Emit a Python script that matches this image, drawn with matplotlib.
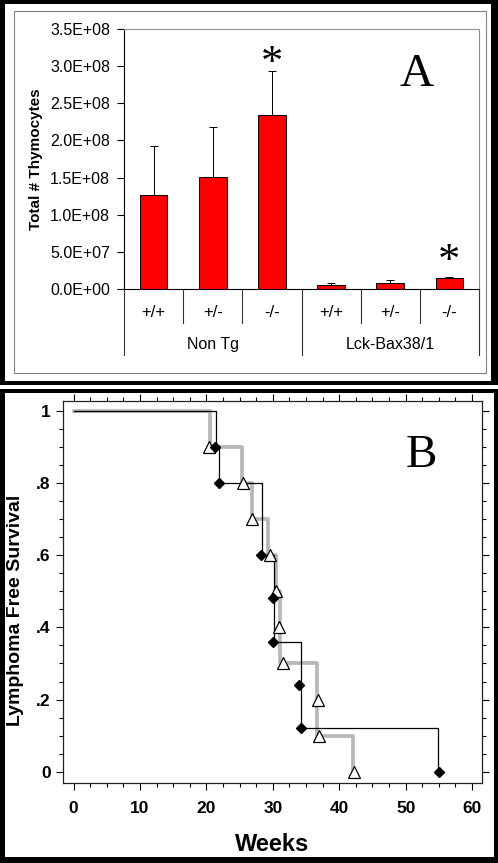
import numpy as np
import matplotlib
matplotlib.use("Agg")
import matplotlib.pyplot as plt
from matplotlib.patches import Rectangle
from matplotlib.ticker import MultipleLocator, FixedLocator

# ---- panel A data ----
genotypes = ['+/+', '+/-', '-/-', '+/+', '+/-', '-/-']
groups = ['Non Tg', 'Lck-Bax38/1']
thymocytes = [1.27e8, 1.51e8, 2.34e8, 4.9e6, 8.5e6, 1.44e7]
thymocytes_err = [6.6e7, 6.7e7, 5.9e7, 3.0e6, 3.6e6, 1.8e6]
signif = [2, 5]
signif_y = [2.88e8, 2.15e7]

# ---- panel B data (Kaplan-Meier steps) ----
gray_t = [0, 20.5, 25.3, 26.8, 29.3, 30.5, 31.1, 36.7, 42.1]
gray_s = [1, 0.9, 0.8, 0.7, 0.6, 0.5, 0.3, 0.1, 0.0]
tri_t = [20.4, 25.5, 26.9, 29.5, 30.5, 31.0, 31.6, 36.8, 36.9, 42.2]
tri_s = [0.9, 0.8, 0.7, 0.6, 0.5, 0.4, 0.3, 0.2, 0.1, 0.0]
black_t = [0, 21.4, 21.9, 28.3, 30.2, 34.2, 54.9]
black_s = [1, 0.9, 0.8, 0.6, 0.36, 0.12, 0.0]
dia_t = [21.3, 21.9, 28.2, 30.0, 30.1, 33.9, 34.2, 55.0]
dia_s = [0.9, 0.8, 0.6, 0.48, 0.36, 0.24, 0.12, 0.0]

W, H = 498, 863
sans = 'Liberation Sans'
serif = 'Liberation Serif'
plt.rcParams['font.family'] = [sans, 'DejaVu Sans']

fig = plt.figure(figsize=(W / 100, H / 100), dpi=100)


def frect(x0, y0, x1, y1, **kw):
    # rectangle in pixel coords (top-left origin)
    r = Rectangle((x0 / W, 1 - y1 / H), (x1 - x0) / W, (y1 - y0) / H,
                  transform=fig.transFigure, **kw)
    fig.patches.append(r)


# frames
frect(0, 0, 498, 385, facecolor='black', edgecolor='none', zorder=-3)
frect(5, 4, 491, 381, facecolor='white', edgecolor='none', zorder=-2)
frect(14, 11, 486, 373, facecolor='none', edgecolor='#808080', lw=0.8, zorder=-1)
frect(0, 389, 498, 863, facecolor='black', edgecolor='none', zorder=-3)
frect(5, 393, 494, 857, facecolor='white', edgecolor='none', zorder=-2)

# ================= panel A =================
axA = fig.add_axes([124 / W, 1 - 289 / H, 355 / W, 260 / H])
axA.patch.set_alpha(0)
x = np.arange(len(genotypes))
axA.bar(x, thymocytes, width=0.47, color='#ff0000', edgecolor='black', lw=0.7, zorder=2)
axA.errorbar(x, thymocytes, yerr=[np.zeros(len(x)), thymocytes_err], fmt='none',
             ecolor='black', elinewidth=0.7, capsize=3, capthick=0.7, zorder=1)
axA.set_xlim(-0.5, 5.5)
axA.set_ylim(0, 3.5e8)
axA.set_yticks(np.arange(0, 3.51e8, 0.5e8))
axA.set_yticklabels(['{:.1E}'.format(v) for v in np.arange(0, 3.51e8, 0.5e8)], fontsize=11.5)
axA.set_xticks([])
axA.tick_params(axis='y', direction='out', length=5, width=0.8, pad=5)
for s in ['top', 'right']:
    axA.spines[s].set_color('#909090')
    axA.spines[s].set_linewidth(0.8)
for s in ['left', 'bottom']:
    axA.spines[s].set_color('black')
    axA.spines[s].set_linewidth(0.8)
axA.set_ylabel('Total # Thymocytes', fontsize=11, fontweight='bold', labelpad=5)

tr = axA.get_xaxis_transform()
for xv in [-0.5, 2.5, 5.5]:
    axA.plot([xv, xv], [0, -0.254], color='#333333', lw=0.8, transform=tr, clip_on=False)
for xv in [0.5, 1.5, 3.5, 4.5]:
    axA.plot([xv, xv], [0, -0.131], color='#333333', lw=0.8, transform=tr, clip_on=False)
for i, g in enumerate(genotypes):
    axA.text(i, -0.092, g, transform=tr, ha='center', va='center', fontsize=12)
for i, g in enumerate(groups):
    axA.text(1 + 3 * i, -0.215, g, transform=tr, ha='center', va='center', fontsize=11.5)
for i, yv in zip(signif, signif_y):
    axA.text(i, yv, '*', ha='center', va='baseline', fontsize=32, family=serif)
axA.text(0.825, 0.781, 'A', transform=axA.transAxes, ha='center', va='baseline',
         fontsize=34, family=serif)

# ================= panel B =================
axB = fig.add_axes([63 / W, 1 - 783 / H, 419 / W, 382 / H])
axB.patch.set_alpha(0)
axB.step(gray_t, gray_s, where='post', color='#b8b8b8', lw=2.7, zorder=2)
axB.step(black_t, black_s, where='post', color='black', lw=0.9, zorder=3)
axB.plot(tri_t, tri_s, ls='none', marker='^', ms=8.3, mfc='white', mec='black', mew=0.9, zorder=4)
axB.plot(dia_t, dia_s, ls='none', marker='D', ms=5.6, mfc='black', mec='black', zorder=5)
axB.set_xlim(-1.6, 61.5)
axB.set_ylim(-0.031, 1.027)
axB.xaxis.set_major_locator(FixedLocator(np.arange(0, 61, 10)))
axB.xaxis.set_minor_locator(MultipleLocator(2.5))
axB.yaxis.set_major_locator(FixedLocator(np.arange(0, 1.01, 0.2)))
axB.yaxis.set_minor_locator(MultipleLocator(0.05))
axB.set_yticklabels(['0', '.2', '.4', '.6', '.8', '1'])
axB.tick_params(which='both', direction='out', top=True, right=True, width=0.8,
                labelsize=12.5)
axB.tick_params(which='major', length=5)
axB.tick_params(which='minor', length=3)
axB.tick_params(axis='x', pad=8)
axB.tick_params(axis='y', pad=4)
for lab in axB.get_xticklabels() + axB.get_yticklabels():
    lab.set_fontweight('bold')
for s in axB.spines.values():
    s.set_linewidth(0.9)
    s.set_color('#222222')
axB.set_xlabel('Weeks', fontsize=17, fontweight='bold', labelpad=12)
fig.text(16 / W, 1 - 610 / H, 'Lymphoma Free Survival', rotation=90, ha='center', va='center',
         fontsize=14, fontweight='bold')
axB.text(0.856, 0.828, 'B', transform=axB.transAxes, ha='center', va='baseline',
         fontsize=34, family=serif)

fig.savefig('out.png', dpi=100)
